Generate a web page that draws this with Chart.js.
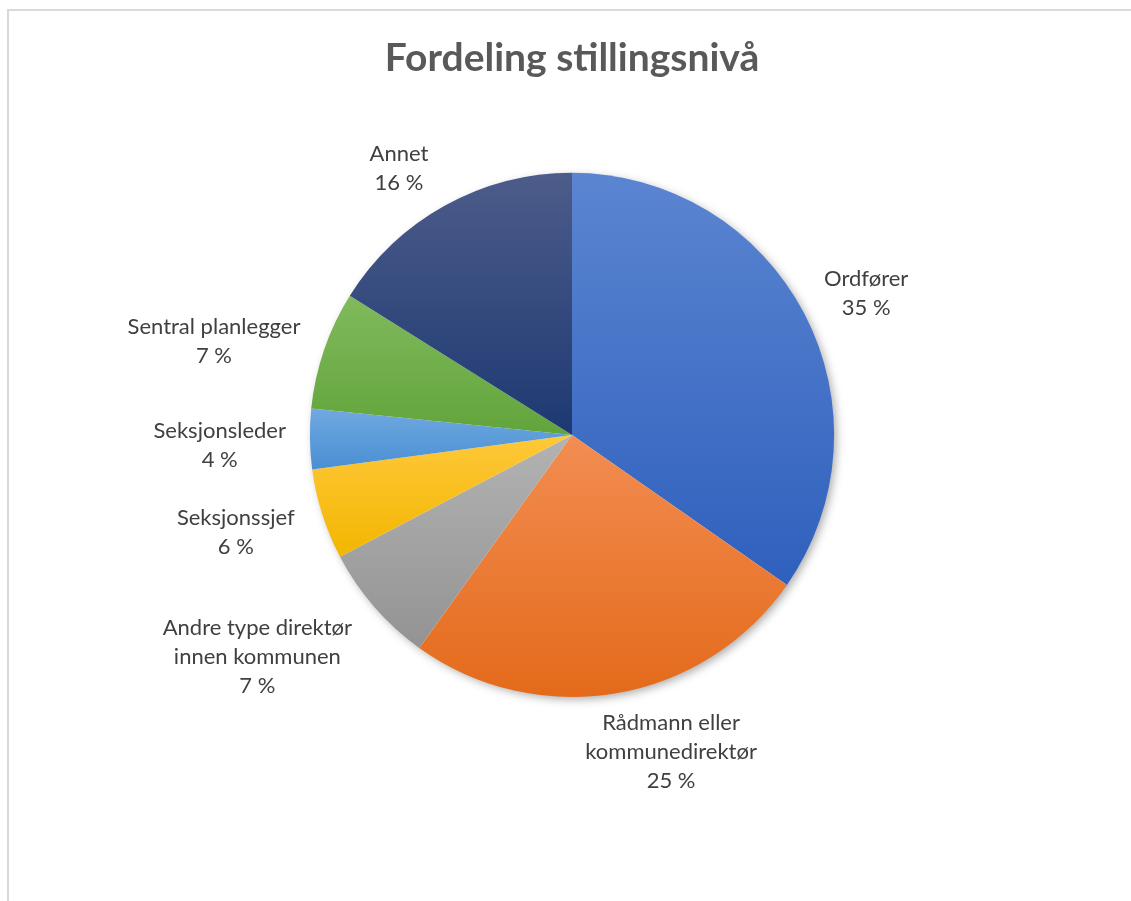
<!DOCTYPE html>
<html>
<head>
<meta charset="utf-8">
<script src="https://cdn.jsdelivr.net/npm/chart.js@4/dist/chart.umd.min.js"></script>
<style>
    html, body { margin: 0; padding: 0; background: #fff; overflow: hidden; }
    .frame { position: absolute; left: 7px; top: 9px; width: 1140px; height: 910px; border: 2px solid #d9d9d9; }
    #pieChart { position: absolute; left: 0; top: 0; }
</style>
</head>
<body>
<div class="frame"></div>
<canvas id="pieChart" width="1131" height="901"></canvas>
<script>
// Fordeling stillingsnivå - pie with outside labels

const categories = [
    ["Ordfører"],
    ["Rådmann eller", "kommunedirektør"],
    ["Andre type direktør", "innen kommunen"],
    ["Seksjonssjef"],
    ["Seksjonsleder"],
    ["Sentral planlegger"],
    ["Annet"],
];
const shares = [34.7, 25.2, 7.4, 5.6, 3.7, 7.3, 16.1];

// light (top) / dark (bottom) gradient colours per slice
const topColors = ["#5b85d1", "#f28d52", "#b3b3b3", "#ffc83a", "#6fa9e0", "#80ba5c", "#4d5c8a"];
const bottomColors = ["#2f60bd", "#e46a1a", "#939393", "#f2b600", "#4a8fd4", "#62a43b", "#1d3972"];

// small label nudges (px) so the labels sit where Excel's "best fit" put them
const labelNudge = [[12, 0], [38, 2], [-35, 12], [-17, 5], [-10, 6], [-15, 5], [-25, 0]];

const FONT = "Lato, 'Open Sans', sans-serif";
const LABEL_SIZE = 22;
const LINE_H = 29;

function sliceGradient(ctx) {
    const chart = ctx.chart;
    const area = chart.chartArea;
    const i = ctx.dataIndex;
    if (!area) return topColors[i];
    const cx = (area.left + area.right) / 2;
    const cy = (area.top + area.bottom) / 2;
    const r = Math.min(area.width, area.height) / 2;
    const total = shares.reduce((a, b) => a + b, 0);
    let before = 0;
    for (let k = 0; k < i; k++) before += shares[k];
    const a0 = -Math.PI / 2 + before / total * Math.PI * 2;
    const a1 = a0 + shares[i] / total * Math.PI * 2;
    const ys = [cy, cy + r * Math.sin(a0), cy + r * Math.sin(a1)];
    // include top / bottom of circle if inside the sweep
    [-Math.PI / 2, Math.PI / 2, Math.PI * 1.5].forEach(a => {
        if (a >= a0 && a <= a1) ys.push(cy + r * Math.sin(a));
    });
    const y0 = Math.min(...ys), y1 = Math.max(...ys);
    const g = chart.ctx.createLinearGradient(0, y0, 0, Math.max(y1, y0 + 1));
    g.addColorStop(0, topColors[i]);
    g.addColorStop(1, bottomColors[i]);
    return g;
}

const pieShadow = {
    id: "pieShadow",
    beforeDatasetsDraw(chart) {
        const arc = chart.getDatasetMeta(0).data[0];
        if (!arc) return;
        const ctx = chart.ctx;
        ctx.save();
        ctx.shadowColor = "rgba(0,0,0,0.35)";
        ctx.shadowBlur = 10;
        ctx.shadowOffsetX = 3;
        ctx.shadowOffsetY = 3;
        ctx.fillStyle = "#fff";
        ctx.beginPath();
        ctx.arc(arc.x, arc.y, arc.outerRadius - 1, 0, Math.PI * 2);
        ctx.fill();
        ctx.restore();
    },
};

const outsideLabels = {
    id: "outsideLabels",
    afterDatasetsDraw(chart) {
        const ctx = chart.ctx;
        const meta = chart.getDatasetMeta(0);
        const data = chart.data.datasets[0].data;
        const total = data.reduce((a, b) => a + b, 0);
        ctx.save();
        ctx.font = LABEL_SIZE + "px " + FONT;
        ctx.fillStyle = "#404040";
        ctx.textAlign = "center";
        ctx.textBaseline = "middle";
        meta.data.forEach((arc, i) => {
            const p = arc.getProps(["x", "y", "startAngle", "endAngle", "outerRadius"], true);
            const mid = (p.startAngle + p.endAngle) / 2;
            const dx = Math.cos(mid), dy = Math.sin(mid);
            const lines = chart.data.labels[i].concat([Math.round(data[i] / total * 100) + " %"]);
            const w = Math.max(...lines.map(t => ctx.measureText(t).width));
            const h = lines.length * LINE_H;
            const gap = 14;
            const ax = p.x + (p.outerRadius + gap) * dx;
            const ay = p.y + (p.outerRadius + gap) * dy;
            const bx = ax + dx * w / 2 + labelNudge[i][0];
            const by = ay + dy * h / 2 + labelNudge[i][1];
            lines.forEach((t, k) => {
                ctx.fillText(t, bx, by - h / 2 + LINE_H * (k + 0.5));
            });
        });
        ctx.restore();
    },
};

new Chart(document.getElementById("pieChart").getContext("2d"), {
    type: "pie",
    data: {
        labels: categories,
        datasets: [{
            data: shares,
            backgroundColor: sliceGradient,
            borderWidth: 0,
        }],
    },
    options: {
        responsive: false,
        animation: false,
        layout: { padding: { left: 213, right: 200, top: 0, bottom: 204 } },
        plugins: {
            legend: { display: false },
            tooltip: { enabled: false },
            title: {
                display: true,
                text: "Fordeling stillingsnivå",
                color: "#595959",
                font: { family: FONT, size: 39, weight: "bold", lineHeight: 1.2 },
                padding: { top: 35, bottom: 91 },
            },
        },
    },
    plugins: [pieShadow, outsideLabels],
});
</script>
</body>
</html>
